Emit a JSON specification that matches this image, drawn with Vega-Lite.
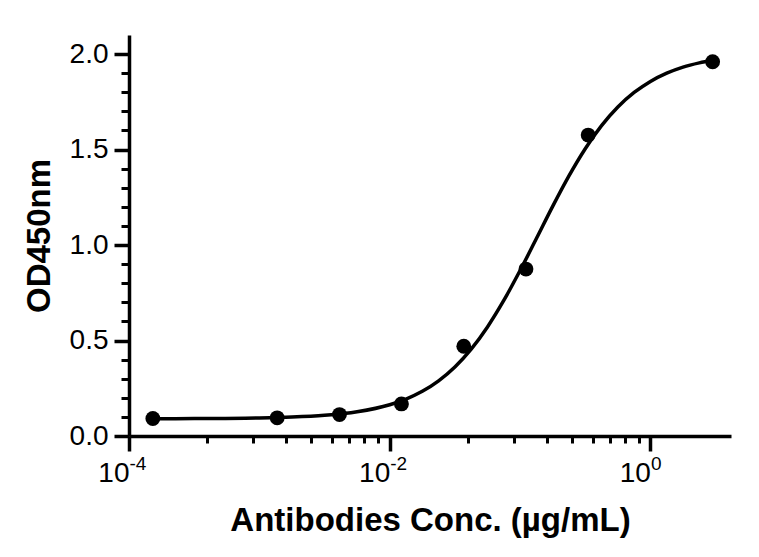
{
  "$schema": "https://vega.github.io/schema/vega-lite/v6.json",
  "width": 602,
  "height": 401,
  "autosize": "none",
  "padding": {"left": 129, "top": 35, "right": 28, "bottom": 121},
  "background": "white",
  "config": {
    "view": {"stroke": null},
    "axis": {
      "domainColor": "black",
      "domainWidth": 3.5,
      "tickColor": "black",
      "tickWidth": 3.5,
      "labelColor": "black",
      "titleColor": "black",
      "labelFont": "Liberation Sans",
      "titleFont": "Liberation Sans",
      "grid": false
    }
  },
  "datasets": {
    "curve": [
      {"conc": 0.0001524, "od": 0.0904},
      {"conc": 0.000316, "od": 0.0911},
      {"conc": 0.001, "od": 0.0945},
      {"conc": 0.001778, "od": 0.0991},
      {"conc": 0.003162, "od": 0.1085},
      {"conc": 0.005623, "od": 0.1271},
      {"conc": 0.01, "od": 0.1638},
      {"conc": 0.01334, "od": 0.1935},
      {"conc": 0.01778, "od": 0.2341},
      {"conc": 0.02371, "od": 0.2891},
      {"conc": 0.03162, "od": 0.3616},
      {"conc": 0.04217, "od": 0.4551},
      {"conc": 0.05623, "od": 0.5713},
      {"conc": 0.07499, "od": 0.7097},
      {"conc": 0.1, "od": 0.8664},
      {"conc": 0.1334, "od": 1.034},
      {"conc": 0.1778, "od": 1.2026},
      {"conc": 0.2371, "od": 1.3623},
      {"conc": 0.3162, "od": 1.5046},
      {"conc": 0.4217, "od": 1.6251},
      {"conc": 0.5623, "od": 1.7228},
      {"conc": 0.7499, "od": 1.7989},
      {"conc": 1.0, "od": 1.857},
      {"conc": 1.334, "od": 1.9002},
      {"conc": 1.778, "od": 1.932},
      {"conc": 2.371, "od": 1.9541},
      {"conc": 3.0, "od": 1.9678}
    ],
    "points": [
      {"conc": 0.0001524, "od": 0.0915},
      {"conc": 0.00137, "od": 0.095},
      {"conc": 0.00412, "od": 0.112},
      {"conc": 0.0123, "od": 0.168},
      {"conc": 0.037, "od": 0.47},
      {"conc": 0.111, "od": 0.874},
      {"conc": 0.333, "od": 1.576},
      {"conc": 3.0, "od": 1.96}
    ],
    "exps": [
      {"conc": 0.0001, "od": 0},
      {"conc": 0.01, "od": 0},
      {"conc": 1, "od": 0}
    ]
  },
  "layer": [
    {
      "data": {"name": "curve"},
      "mark": {"type": "line", "color": "black", "strokeWidth": 3.5, "interpolate": "monotone"},
      "encoding": {
        "x": {
          "field": "conc", "type": "quantitative",
          "scale": {"type": "log", "domain": [0.0001, 4.15], "nice": false},
          "axis": {
            "orient": "bottom",
            "values": [0.0001, 0.01, 1],
            "tickSize": 15,
            "labelPadding": 8,
            "labelFontSize": 28,
            "labelAlign": "right",
            "labelDx": 7,
            "labelExpr": "'10'",
            "title": "Antibodies Conc. (µg/mL)",
            "titleFontSize": 33,
            "titleFontWeight": "bold",
            "titlePadding": 17
          }
        },
        "y": {
          "field": "od", "type": "quantitative",
          "scale": {"domain": [0, 2.1], "nice": false, "zero": true},
          "axis": {
            "orient": "left",
            "values": [0, 0.5, 1, 1.5, 2],
            "format": ".1f",
            "tickSize": 15,
            "labelPadding": 6,
            "labelFontSize": 28,
            "title": "OD450nm",
            "titleFontSize": 33,
            "titleFontWeight": "bold",
            "titlePadding": 13
          }
        }
      }
    },
    {
      "data": {"name": "points"},
      "mark": {"type": "point", "shape": "circle", "filled": true, "color": "black", "size": 220, "opacity": 1},
      "encoding": {
        "x": {
          "field": "conc", "type": "quantitative",
          "axis": {
            "orient": "bottom",
            "values": [0.0004, 0.0009, 0.0016, 0.0025, 0.0036, 0.0049, 0.0064, 0.0081, 0.04, 0.09, 0.16, 0.25, 0.36, 0.49, 0.64, 0.81],
            "tickSize": 7,
            "tickWidth": 3,
            "labels": false,
            "domain": false,
            "title": null
          }
        },
        "y": {
          "field": "od", "type": "quantitative",
          "axis": {
            "orient": "left",
            "values": [0.1, 0.2, 0.3, 0.4, 0.6, 0.7, 0.8, 0.9, 1.1, 1.2, 1.3, 1.4, 1.6, 1.7, 1.8, 1.9],
            "tickSize": 8,
            "tickWidth": 3,
            "labels": false,
            "domain": false,
            "title": null
          }
        }
      }
    },
    {
      "data": {"name": "exps"},
      "mark": {"type": "point", "opacity": 0},
      "encoding": {
        "x": {
          "field": "conc", "type": "quantitative",
          "axis": {
            "orient": "bottom",
            "values": [0.0001, 0.01, 1],
            "tickSize": 15,
            "tickOpacity": 0,
            "labelPadding": 3,
            "labelFontSize": 19,
            "labelAlign": "left",
            "labelDx": 8,
            "labelExpr": "datum.value < 0.001 ? '-4' : datum.value < 0.1 ? '-2' : '0'",
            "domain": false,
            "title": null
          }
        },
        "y": {
          "field": "od", "type": "quantitative",
          "axis": null
        }
      }
    }
  ],
  "resolve": {"axis": {"x": "independent", "y": "independent"}}
}
